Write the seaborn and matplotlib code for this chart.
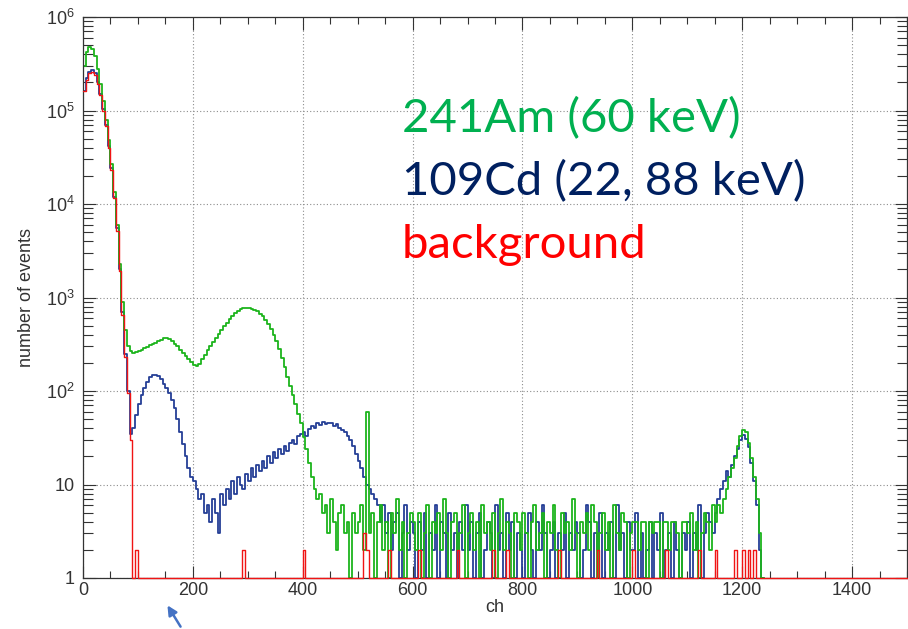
import numpy as np
import pandas as pd
import matplotlib
matplotlib.use("Agg")
import matplotlib.pyplot as plt
from matplotlib.ticker import FixedLocator, FixedFormatter, MultipleLocator, LogLocator, NullFormatter
import seaborn as sns

BIN = 5  # channels per histogram bin

# counts per 5-channel bin, one row per 100 channels (0-95, 100-195, ...)
am241_counts = [
    3.0e5, 4.2e5, 4.8e5, 4.6e5, 3.8e5, 2.8e5, 1.9e5, 1.25e5, 8.0e4, 4.8e4, 2.7e4, 1.35e4, 6000, 2300, 900, 450, 300, 265, 255, 262,
    268, 276, 285, 296, 308, 318, 330, 342, 355, 366, 370, 362, 345, 322, 300, 276, 255, 236, 220, 205,
    192, 186, 196, 218, 245, 275, 305, 335, 370, 410, 450, 495, 540, 590, 635, 680, 720, 750, 770, 780,
    776, 762, 740, 710, 672, 628, 578, 522, 462, 400, 340, 282, 228, 180, 142, 112, 90, 72, 57, 45,
    32, 24, 17, 12, 9, 7, 8, 5, 6, 3, 7, 4, 2, 5, 6, 3, 4, 1, 5, 3,
    4, 6, 2, 60, 3, 5, 1, 4, 6, 2, 4, 0, 5, 3, 7, 2, 4, 1, 3, 5,
    4, 2, 5, 0, 3, 6, 1, 4, 3, 5, 2, 7, 3, 1, 4, 5, 2, 3, 6, 0,
    3, 5, 2, 4, 1, 6, 3, 4, 2, 5, 0, 3, 7, 2, 4, 3, 1, 5, 4, 2,
    5, 3, 0, 4, 6, 2, 3, 5, 1, 4, 3, 6, 2, 0, 5, 3, 4, 2, 7, 3,
    1, 4, 3, 5, 2, 6, 4, 0, 3, 5, 2, 4, 1, 6, 3, 2, 5, 4, 0, 3,
    4, 4, 2, 4, 4, 1, 4, 3, 4, 4, 0, 4, 4, 2, 4, 4, 3, 1, 4, 4,
    3, 5, 2, 4, 0, 3, 5, 4, 2, 6, 4, 6, 5, 7, 9, 12, 15, 19, 26, 33,
    38, 36, 28, 19, 12, 7, 3, 0,
]

cd109_counts = [
    1.6e5, 2.2e5, 2.6e5, 2.7e5, 2.5e5, 2.0e5, 1.5e5, 1.05e5, 7.0e4, 4.2e4, 2.4e4, 1.2e4, 5500, 2000, 700, 250, 100, 35, 40, 55,
    72, 90, 108, 125, 140, 148, 150, 145, 135, 120, 108, 95, 80, 65, 50, 36, 27, 20, 15, 12,
    11, 9, 7, 8, 5, 6, 4, 7, 5, 3, 8, 6, 9, 7, 11, 8, 12, 10, 9, 13,
    11, 15, 12, 16, 14, 18, 15, 20, 17, 22, 19, 24, 21, 26, 23, 28, 30, 27, 33, 35,
    36, 33, 39, 42, 40, 45, 43, 47, 44, 46, 45, 42, 44, 40, 38, 36, 33, 30, 26, 21,
    18, 15, 12, 10, 9, 8, 7, 6, 4, 6, 3, 5, 2, 4, 5, 1, 3, 6, 2, 4,
    3, 1, 4, 2, 5, 0, 3, 2, 6, 1, 4, 3, 0, 5, 2, 3, 1, 4, 2, 6,
    2, 4, 0, 3, 5, 1, 2, 4, 3, 0, 6, 2, 3, 1, 5, 2, 4, 0, 3, 2,
    1, 3, 5, 2, 0, 4, 2, 6, 3, 1, 2, 4, 0, 3, 2, 5, 1, 3, 2, 4,
    3, 0, 2, 6, 4, 1, 3, 2, 5, 0, 3, 2, 4, 1, 6, 2, 3, 0, 4, 2,
    2, 5, 1, 3, 0, 2, 4, 1, 3, 2, 5, 0, 2, 3, 1, 4, 2, 0, 3, 2,
    4, 1, 3, 2, 6, 0, 3, 5, 4, 3, 5, 7, 9, 11, 14, 12, 16, 20, 24, 30,
    34, 31, 25, 17, 11, 6, 2, 0,
]

# background: the pedestal peak (channels 0-90) and a few single counts later on
bg_head_counts = [1.6e5, 2.1e5, 2.5e5, 2.6e5, 2.4e5, 1.9e5, 1.45e5, 1.0e5, 6.8e4, 4.0e4,
                  2.3e4, 1.15e4, 5200, 1900, 650, 230, 95, 30, 0]
bg_spike_ch = [95, 290, 400, 510, 515, 555, 610, 680, 745, 770, 865, 935,
               1000, 1060, 1120, 1150, 1185, 1200, 1210, 1220]
bg_spike_counts = [2, 2, 2, 3, 2, 2, 2, 2, 2, 2, 2, 2, 2, 2, 2, 2, 2, 2, 2, 2]
bg_last_ch = 1500

x_ticks = [0, 200, 400, 600, 800, 1000, 1200, 1400]
y_ticks = [1, 10, 1e2, 1e3, 1e4, 1e5, 1e6]
y_tick_labels = ['1', '10', '$10^2$', '$10^3$', '$10^4$', '$10^5$', '$10^6$']

labels = ['241Am (60 keV)', '109Cd (22, 88 keV)', 'background']
colors = {'am': '#1cb41c', 'cd': '#253f96', 'bg': '#f01414'}
label_colors = ['#00b050', '#002060', '#ff0000']


def hist_frame(counts):
    # step outline of a histogram: left edges plus the closing right edge
    counts = np.asarray(counts, dtype=float)
    edges = np.arange(len(counts) + 1) * BIN
    y = np.append(counts, counts[-1])
    return pd.DataFrame({'ch': edges, 'events': np.clip(y, 1, None)})


bg_counts = np.zeros(bg_last_ch // BIN)
bg_counts[:len(bg_head_counts)] = bg_head_counts
for c, n in zip(bg_spike_ch, bg_spike_counts):
    bg_counts[c // BIN] = n

sns.set_style("ticks")
plt.rcParams['font.family'] = ['Liberation Sans', 'DejaVu Sans']
plt.rcParams['mathtext.default'] = 'regular'

fig = plt.figure(figsize=(9.08, 6.29), dpi=100)
ax = fig.add_axes([83 / 908, 51 / 629, 824 / 908, 561 / 629])

for key, counts, lw, z in [('cd', cd109_counts, 1.3, 2.0), ('am', am241_counts, 1.3, 2.1),
                           ('bg', bg_counts, 1.0, 2.6)]:
    sns.lineplot(data=hist_frame(counts), x='ch', y='events', ax=ax, color=colors[key],
                 drawstyle='steps-post', linewidth=lw, estimator=None, legend=False,
                 zorder=z, clip_on=(key != 'bg'))

ax.set_yscale('log')
ax.set_xlim(0, 1500)
ax.set_ylim(1, 1e6)

ax.xaxis.set_major_locator(FixedLocator(x_ticks))
ax.xaxis.set_minor_locator(MultipleLocator(50))
ax.yaxis.set_major_locator(FixedLocator(y_ticks))
ax.yaxis.set_major_formatter(FixedFormatter(y_tick_labels))
ax.yaxis.set_minor_locator(LogLocator(base=10, subs=np.arange(2, 10)))
ax.yaxis.set_minor_formatter(NullFormatter())

ax.tick_params(axis='both', which='both', direction='in', top=True, right=True,
               colors='#333333', labelsize=13, width=0.8)
ax.tick_params(axis='both', which='major', length=9)
ax.tick_params(axis='x', which='minor', length=5)
ax.tick_params(axis='y', which='minor', length=7)
ax.tick_params(axis='x', pad=3)
ax.tick_params(axis='y', pad=6)

ax.grid(True, which='major', color='#8c8c8c', linestyle=(0, (1, 2)), linewidth=0.8)
for s in ax.spines.values():
    s.set_color('#333333')
    s.set_linewidth(0.9)

ax.set_xlabel('ch', fontsize=13, color='#333333', labelpad=0)
ax.set_ylabel('number of events', fontsize=13, color='#333333', labelpad=8)

for i, (txt, col) in enumerate(zip(labels, label_colors)):
    fig.text(402 / 908, 1 - (132 + 63 * i) / 629, txt, color=col, fontsize=34,
             family=['Lato', 'DejaVu Sans'], ha='left', va='baseline')

# little pointer below the axis
ax.annotate('', xy=(166 / 908, 1 - 603 / 629), xycoords='figure fraction',
            xytext=(182 / 908, 0.0), textcoords='figure fraction',
            arrowprops=dict(arrowstyle='-|>', color='#4472c4', lw=1.8, mutation_scale=14),
            annotation_clip=False)

fig.savefig('out.png', dpi=100)
